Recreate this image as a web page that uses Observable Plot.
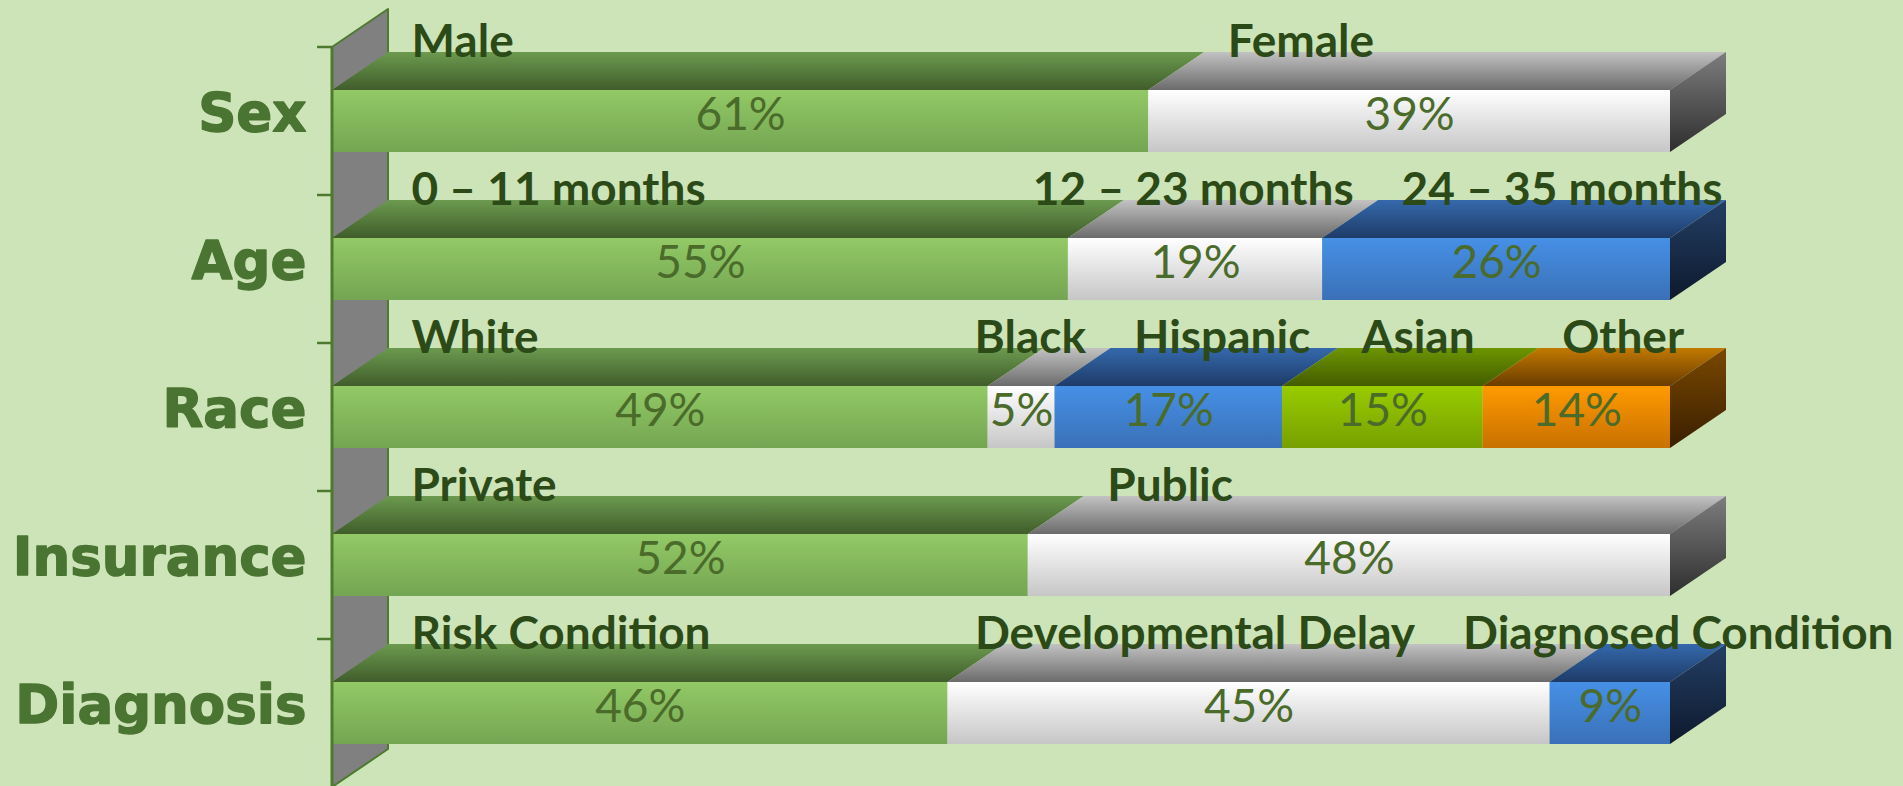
<!DOCTYPE html>
<html><head><meta charset="utf-8">
<script src="https://cdn.jsdelivr.net/npm/d3@7"></script>
<script src="https://cdn.jsdelivr.net/npm/@observablehq/plot@0.6"></script>
<style>
html,body{margin:0;padding:0;background:#cde4b8;overflow:hidden;}
#chart svg{display:block;}
</style></head><body><div id="chart"></div>
<script>
// ---- data ----
const categories = ["Sex", "Age", "Race", "Insurance", "Diagnosis"];
const sexLabels = ["Male", "Female"];
const sexValues = [61, 39];
const ageLabels = ["0 – 11 months", "12 – 23 months", "24 – 35 months"];
const ageValues = [55, 19, 26];
const raceLabels = ["White", "Black", "Hispanic", "Asian", "Other"];
const raceValues = [49, 5, 17, 15, 14];
const insuranceLabels = ["Private", "Public"];
const insuranceValues = [52, 48];
const diagnosisLabels = ["Risk Condition", "Developmental Delay", "Diagnosed Condition"];
const diagnosisValues = [46, 45, 9];
const segmentColors = ["green", "white", "blue", "lime", "orange"];

// ---- styles ----
const W = 1903, H = 786;
const DX = 56, DY = 38;
const LABEL_FONT = 46;
const gradients = {
  front: {green: ["#93c966", "#74a552"], white: ["#ffffff", "#c6c6c6"], blue: ["#4690e6", "#3a70b7"], lime: ["#99cc00", "#77a000"], orange: ["#ff9a00", "#c87000"]},
  top: {green: ["#6c9a4f", "#405d2b"], white: ["#c2c2c2", "#6b6b6b"], blue: ["#3569ac", "#1e3b68"], lime: ["#6d9500", "#435c00"], orange: ["#c27a00", "#6a3c00"]},
  side: {green: ["#4f7a34", "#2a401b"], white: ["#7d7d7d", "#2e2e2e"], blue: ["#233f66", "#0e192c"], lime: ["#557400", "#2f4000"], orange: ["#7a4800", "#3a1f00"]}
};

// ---- table ----
const groups = [[sexLabels, sexValues], [ageLabels, ageValues], [raceLabels, raceValues], [insuranceLabels, insuranceValues], [diagnosisLabels, diagnosisValues]];
const rows = [];
categories.forEach((cat, i) => {
  const [labels, values] = groups[i];
  let acc = 0;
  labels.forEach((lab, j) => {
    const x1 = acc / 100; acc += values[j];
    rows.push({category: cat, label: lab, value: values[j], x1, x2: acc / 100, color: segmentColors[j], last: j === labels.length - 1});
  });
});

const xOpts = {domain: [0, 1], range: [332, 1670]};
const yOpts = {type: "band", domain: categories, range: [46, 788.5], paddingInner: 0.5825, paddingOuter: 0.29125};

// series-label placement (left-aligned, pushed left when crowded)
const xs = Plot.scale({x: xOpts});
const ctx = document.createElement("canvas").getContext("2d");
ctx.font = `bold ${LABEL_FONT}px Lato`;
categories.forEach(cat => {
  const seg = rows.filter(d => d.category === cat);
  let limit = W - 10;
  for (let k = seg.length - 1; k >= 0; k--) {
    const d = seg[k];
    const w = ctx.measureText(d.label).width;
    const start = Math.min(xs.apply(d.x1) + 79, limit - w);
    d.labelX = xs.invert(start);
    limit = start - 48;
  }
});

// ---- custom marks ----
function defsMark() {
  const defs = d3.create("svg:defs");
  for (const kind in gradients) for (const c in gradients[kind]) {
    const g = defs.append("linearGradient").attr("id", `${kind}-${c}`).attr("x1", 0).attr("y1", 0).attr("x2", 0).attr("y2", 1);
    g.append("stop").attr("offset", "0%").attr("stop-color", gradients[kind][c][0]);
    g.append("stop").attr("offset", "100%").attr("stop-color", gradients[kind][c][1]);
  }
  return defs.node();
}
function geom(scales) {
  const y = scales.y, step = y.step(), bw = y.bandwidth();
  const y0 = y(categories[0]) - (step - bw) / 2;
  return {y0, yEnd: y0 + step * categories.length, step, bw};
}
function wallMark(index, scales) {
  const {y0, yEnd, step} = geom(scales);
  const x0 = scales.x(0);
  const g = d3.create("svg:g");
  g.append("path").attr("d", `M${x0},${y0}L${x0 + DX},${y0 - DY}L${x0 + DX},${yEnd - DY}L${x0},${yEnd}Z`)
    .attr("fill", "#808080").attr("stroke", "#4e7a30").attr("stroke-width", 2).attr("stroke-linejoin", "round");
  categories.forEach((c, i) => {
    const ty = y0 + i * step;
    g.append("line").attr("x1", x0 - 15).attr("x2", x0).attr("y1", ty).attr("y2", ty).attr("stroke", "#4e7a30").attr("stroke-width", 2.5);
  });
  return g.node();
}
function axisLine(index, scales) {
  const {y0, yEnd} = geom(scales);
  const x0 = scales.x(0);
  return d3.create("svg:line").attr("x1", x0).attr("x2", x0).attr("y1", y0).attr("y2", yEnd)
    .attr("stroke", "#4e7a30").attr("stroke-width", 3).node();
}
function topMark(index, scales) {
  const x = scales.x, y = scales.y;
  const g = d3.create("svg:g");
  g.selectAll("path").data(rows).join("path")
    .attr("d", d => { const a = x(d.x1), b = x(d.x2), t = y(d.category); return `M${a},${t}L${b},${t}L${b + DX},${t - DY}L${a + DX},${t - DY}Z`; })
    .attr("fill", d => `url(#top-${d.color})`);
  return g.node();
}
function sideMark(index, scales) {
  const x = scales.x, y = scales.y, bw = y.bandwidth();
  const g = d3.create("svg:g");
  g.selectAll("path").data(rows.filter(d => d.last)).join("path")
    .attr("d", d => { const b = x(d.x2), t = y(d.category); return `M${b},${t}L${b + DX},${t - DY}L${b + DX},${t + bw - DY}L${b},${t + bw}Z`; })
    .attr("fill", d => `url(#side-${d.color})`);
  return g.node();
}

const fronts = segmentColors.map(c => Plot.barX(rows.filter(d => d.color === c), {x1: "x1", x2: "x2", y: "category", fill: `url(#front-${c})`}));

const chart = Plot.plot({
  width: W, height: H,
  marginLeft: 332, marginRight: 233, marginTop: 46, marginBottom: 0,
  x: {...xOpts, axis: null},
  y: {...yOpts, axis: null},
  style: {background: "#cde4b8", overflow: "visible"},
  marks: [
    defsMark,
    wallMark,
    topMark,
    ...fronts,
    sideMark,
    axisLine,
    Plot.text(rows, {x: d => (d.x1 + d.x2) / 2, y: "category", text: d => d.value + "%", fontSize: 46, fontFamily: "Lato", fill: "#4a6b2a", dy: -6}),
    Plot.text(rows, {x: "labelX", y: "category", text: "label", textAnchor: "start", lineAnchor: "bottom", dy: -65, fontSize: LABEL_FONT, fontWeight: "bold", fontFamily: "Lato", fill: "#2c4a17"}),
    Plot.text(categories, {y: d => d, text: d => d, frameAnchor: "left", textAnchor: "end", dx: -26, dy: -7, fontSize: 53, fontWeight: "bold", fontFamily: "DejaVu Sans", fill: "#4a7431", stroke: "#4a7431", strokeWidth: 1.4})
  ]
});
document.getElementById("chart").appendChild(chart);
</script></body></html>
